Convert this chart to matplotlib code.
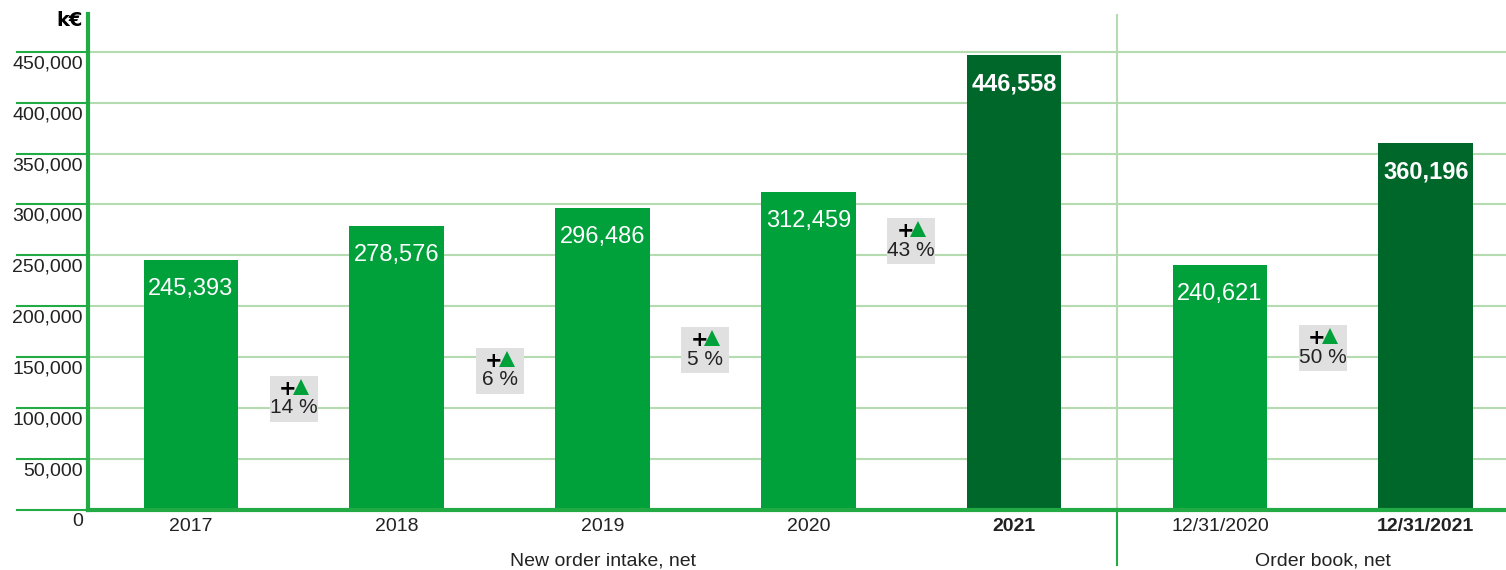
import matplotlib.pyplot as plt
from matplotlib.patches import Rectangle

# --- data ---
categories = ['2017', '2018', '2019', '2020', '2021', '12/31/2020', '12/31/2021']
values = [245393, 278576, 296486, 312459, 446558, 240621, 360196]
highlight = [False, False, False, False, True, False, True]
changes = ['14 %', '6 %', '5 %', '43 %', '50 %']
change_pos = [0.5, 1.5, 2.5, 3.5, 5.5]
change_y = [109000, 136500, 157000, 264000, 159000]  # badge centre heights
groups = ['New order intake, net', 'Order book, net']
group_centres = [2.0, 5.5]
yticks = [0, 50000, 100000, 150000, 200000, 250000, 300000, 350000, 400000, 450000]

GREEN = '#00a03a'
DARK = '#00672a'
GRID = '#b4dcb0'
AXIS = '#22aa44'
TEXT = '#222222'

plt.rcParams['font.family'] = ['Liberation Sans', 'DejaVu Sans']

fig = plt.figure(figsize=(15.06, 5.70), dpi=100)
ax = fig.add_axes([88 / 1506, 1 - 510 / 570, 1 - 88 / 1506, (510 - 14) / 570])

ymax = 487000
ax.set_xlim(-0.5, 6.39)
ax.set_ylim(0, ymax)

px_x = 1 / 205.8       # one pixel in x data units
px_y = ymax / 496      # one pixel in y data units

# grid + ticks extending left of the axis
for v in yticks[1:]:
    ax.axhline(v, color=GRID, lw=1.5, zorder=0)
for v in yticks:
    ax.plot([-0.5 - 71 * px_x, -0.5], [v, v], color=AXIS, lw=1.5, clip_on=False)
    ax.text(-0.5 - 5 * px_x, v - 12 * px_y, f'{v:,}' if v else '0', ha='right', va='center',
            fontsize=14, color=TEXT)
ax.set_yticks([])

colors = [DARK if h else GREEN for h in highlight]
ax.bar(range(len(values)), values, width=0.46, color=colors, zorder=2)

for i, v in enumerate(values):
    ax.text(i, v - 29 * px_y, f'{v:,}', ha='center', va='center', color='white',
            fontsize=17, fontweight='bold' if highlight[i] else 'normal', zorder=3)

# change badges
for x, y, lab in zip(change_pos, change_y, changes):
    w, h = 48 * px_x, 46 * px_y
    ax.add_patch(Rectangle((x - w / 2, y - h / 2), w, h, facecolor='#e0e0e0',
                           edgecolor='none', zorder=3))
    ax.text(x - 6 * px_x, y + 10 * px_y, '+', ha='center', va='center', fontsize=15,
            fontweight='bold', color='black', zorder=4, family='DejaVu Sans')
    ax.plot(x + 7 * px_x, y + 12 * px_y, marker='^', markersize=12, color=GREEN,
            zorder=4, markeredgewidth=0)
    ax.text(x, y - 9 * px_y, lab, ha='center', va='center', fontsize=15,
            color=TEXT, zorder=4)

# spines
for s in ['top', 'right']:
    ax.spines[s].set_visible(False)
ax.spines['left'].set_color(AXIS)
ax.spines['left'].set_linewidth(3)
ax.spines['bottom'].set_color(AXIS)
ax.spines['bottom'].set_linewidth(3)

# separator between groups
ax.axvline(4.5, color=GRID, lw=1.5, zorder=1)
ax.plot([4.5, 4.5], [0, -55 * px_y], color=AXIS, lw=1.5, clip_on=False)

ax.set_xticks(range(len(categories)))
ax.set_xticklabels(categories, fontsize=14, color=TEXT)
ax.tick_params(axis='x', length=0, pad=6)
for lbl, h in zip(ax.get_xticklabels(), highlight):
    if h:
        lbl.set_fontweight('bold')

for c, g in zip(group_centres, groups):
    ax.text(c, -51 * px_y, g, ha='center', va='center', fontsize=14, color=TEXT)

ax.text(-0.5 - 5 * px_x, ymax - 7 * px_y, 'k€', ha='right', va='center', fontsize=14,
        fontweight='bold', family='DejaVu Sans')

fig.savefig('out.png', dpi=100)
